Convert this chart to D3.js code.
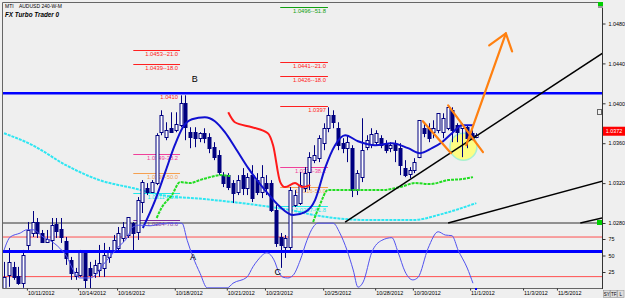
<!DOCTYPE html>
<html>
<head>
<meta charset="utf-8">
<script src="https://cdn.jsdelivr.net/npm/d3@7"></script>
<style>
body { margin: 0; background: #efefef; }
svg { display: block; font-family: "Liberation Sans", Arial, sans-serif; }
</style>
</head>
<body>
<svg id="chart" width="625" height="298"></svg>
<script>
// 4h candles, [open, high, low, close]
var candles = [
[1.0215,1.0241,1.0213,1.0226],[1.0228,1.0255,1.0216,1.0241],[1.0236,1.0241,1.0223,1.0226],[1.0227,1.0236,1.0218,1.0220],
[1.0220,1.0253,1.0215,1.0248],[1.0258,1.0281,1.0253,1.0273],[1.0270,1.0292,1.0266,1.0281],[1.0281,1.0285,1.0265,1.0270],
[1.0270,1.0273,1.0260,1.0261],[1.0261,1.0273,1.0260,1.0264],[1.0263,1.0285,1.0251,1.0278],[1.0279,1.0285,1.0265,1.0272],
[1.0274,1.0285,1.0260,1.0266],[1.0262,1.0266,1.0238,1.0245],[1.0243,1.0246,1.0223,1.0230],[1.0227,1.0235,1.0223,1.0231],
[1.0228,1.0253,1.0226,1.0251],[1.0250,1.0251,1.0208,1.0223],[1.0235,1.0241,1.0211,1.0228],[1.0230,1.0243,1.0225,1.0238],
[1.0233,1.0258,1.0226,1.0240],[1.0235,1.0260,1.0226,1.0248],[1.0246,1.0256,1.0240,1.0251],[1.0251,1.0268,1.0250,1.0263],
[1.0255,1.0276,1.0251,1.0270],[1.0265,1.0281,1.0261,1.0276],[1.0268,1.0286,1.0265,1.0286],[1.0280,1.0281,1.0251,1.0270],
[1.0271,1.0306,1.0263,1.0303],[1.0301,1.0323,1.0290,1.0321],[1.0315,1.0320,1.0308,1.0311],[1.0311,1.0323,1.0310,1.0321],
[1.0320,1.0370,1.0318,1.0368],[1.0371,1.0393,1.0368,1.0388],[1.0366,1.0381,1.0363,1.0373],[1.0375,1.0391,1.0371,1.0371],
[1.0373,1.0391,1.0371,1.0379],[1.0378,1.0408,1.0376,1.0400],[1.0400,1.0408,1.0363,1.0376],[1.0371,1.0376,1.0355,1.0366],
[1.0371,1.0376,1.0356,1.0365],[1.0365,1.0371,1.0361,1.0370],[1.0370,1.0375,1.0360,1.0365],[1.0366,1.0370,1.0350,1.0355],
[1.0356,1.0361,1.0343,1.0346],[1.0348,1.0353,1.0328,1.0331],[1.0328,1.0331,1.0316,1.0320],[1.0328,1.0330,1.0313,1.0316],
[1.0320,1.0323,1.0300,1.0310],[1.0311,1.0328,1.0308,1.0323],[1.0328,1.0335,1.0308,1.0315],[1.0315,1.0330,1.0308,1.0326],
[1.0328,1.0338,1.0301,1.0305],[1.0323,1.0330,1.0308,1.0311],[1.0311,1.0338,1.0305,1.0326],[1.0320,1.0328,1.0308,1.0315],
[1.0320,1.0323,1.0291,1.0293],[1.0293,1.0298,1.0256,1.0260],[1.0266,1.0270,1.0235,1.0258],[1.0256,1.0268,1.0245,1.0265],
[1.0256,1.0316,1.0253,1.0313],[1.0298,1.0313,1.0296,1.0308],[1.0300,1.0331,1.0298,1.0318],[1.0315,1.0336,1.0311,1.0330],
[1.0331,1.0351,1.0313,1.0346],[1.0343,1.0358,1.0340,1.0348],[1.0345,1.0368,1.0341,1.0365],[1.0360,1.0380,1.0353,1.0375],
[1.0375,1.0396,1.0371,1.0388],[1.0388,1.0393,1.0375,1.0381],[1.0375,1.0381,1.0353,1.0358],[1.0360,1.0365,1.0350,1.0355],
[1.0355,1.0368,1.0341,1.0361],[1.0355,1.0358,1.0306,1.0313],[1.0313,1.0333,1.0308,1.0330],[1.0326,1.0385,1.0321,1.0353],
[1.0356,1.0368,1.0353,1.0363],[1.0359,1.0375,1.0355,1.0369],[1.0361,1.0373,1.0358,1.0370],[1.0365,1.0368,1.0355,1.0358],
[1.0359,1.0363,1.0350,1.0353],[1.0355,1.0361,1.0351,1.0358],[1.0359,1.0363,1.0341,1.0353],[1.0355,1.0360,1.0328,1.0338],
[1.0335,1.0343,1.0326,1.0328],[1.0329,1.0336,1.0325,1.0333],[1.0333,1.0345,1.0330,1.0341],[1.0346,1.0383,1.0345,1.0383],
[1.0375,1.0381,1.0366,1.0370],[1.0375,1.0380,1.0361,1.0365],[1.0371,1.0383,1.0365,1.0375],[1.0373,1.0390,1.0370,1.0390],
[1.0371,1.0390,1.0365,1.0385],[1.0375,1.0398,1.0373,1.0396],[1.0393,1.0396,1.0361,1.0373],[1.0378,1.0380,1.0361,1.0371],
[1.0375,1.0380,1.0346,1.0378],[1.0376,1.0378,1.0355,1.0365],[1.0370,1.0373,1.0363,1.0365],[1.0366,1.0370,1.0365,1.0368]
];

// [bar index, price]
var cyanMA = [[0,1.0370],[6,1.0358],[13,1.0338],[20,1.0323],[27,1.0315],[33,1.0308],[42,1.0304],[53,1.0298],
	[60,1.0293],[65,1.0288],[76,1.0283],[86,1.0283],[91,1.0288],[99,1.0300]];
var stopUpA = [[32,1.0285],[33,1.0295],[35.2,1.0308],[36.9,1.0321],[39,1.0320],[41,1.0323],[43.2,1.0326],[45.3,1.0328],[47.4,1.0327]];
var stopDown = [[47,1.0391],[48.4,1.0381],[52,1.0376],[55.3,1.0370],[56.4,1.0358],[57.9,1.0321],[58.9,1.0316],[61,1.0320],[62.5,1.0316],[64.2,1.0318]];
var stopUpB = [[64.8,1.0281],[66.2,1.0298],[67.9,1.0313],[70.4,1.0313],[73.6,1.0313],[79.2,1.0313],[83,1.0316],[86.2,1.0320],
	[89.3,1.0319],[93.1,1.0323],[96,1.0324],[98.3,1.0326]];
var blueMA = [[29.1,1.0275],[31.7,1.0303],[33.8,1.0331],[35.8,1.0358],[37.5,1.0376],[39.4,1.0384],[42.1,1.0386],[44.2,1.0382],
	[46.3,1.0371],[48.4,1.0356],[51.2,1.0335],[54.7,1.0313],[57.9,1.0296],[60.6,1.0288],[63.1,1.0291],[65.2,1.0303],
	[67.3,1.0335],[69.4,1.0358],[71.5,1.0368],[74.2,1.0362],[77.8,1.0358],[81.3,1.0360],[84.7,1.0355],[87.2,1.0350],
	[89.7,1.0355],[91.8,1.0361],[93.9,1.0370],[96,1.0378],[98.3,1.0378]];

// oscillator, [bar index, value 0-100]
var osc = [[0,58],[1.3,78],[3.4,84],[4.8,89],[6.1,89],[8.2,78],[9.6,73],[11.7,61],[13.2,48],[14.5,28],[15.9,16],[18,16],
	[19.5,23],[20.8,36],[22.2,48],[23.7,61],[25.8,77],[27,93],[28.5,96],[30.6,95],[32.7,98],[34.8,99],[37.3,99],
	[38.4,73],[39.6,48],[41.1,23],[42.6,1],[46.8,1],[48,8],[50.9,17],[52.2,33],[53.2,43],[55.1,54],[56.2,48],[56.8,40],
	[57.4,28],[58.5,17],[59.5,16],[60.6,20],[62.1,43],[63.5,73],[64.8,93],[65.8,99],[69,99],[70.4,84],[71.9,58],
	[73.2,28],[74.2,2],[75.3,10],[77.1,55],[79.2,73],[81.3,77],[82.6,55],[84.1,25],[85.7,13],[86.8,17],[88.9,61],
	[91,86],[92.5,81],[93.9,80],[95.2,58],[97.1,31],[98.3,8]];
var oscLevels = [78, 18];
var oscMid = 56;

var dateIdx = [4.8, 15.5, 23.7, 35.8, 46.7, 54.7, 66.9, 77.8, 85.7, 97.7, 108.8, 115.9];
var dateLabels = ["10/11/2012","10/14/2012","10/16/2012","10/18/2012","10/21/2012","10/23/2012",
	"10/25/2012","10/28/2012","10/30/2012","11/1/2012","11/3/2012","11/5/2012"];
var priceTicks = [1.028, 1.032, 1.036, 1.040, 1.044, 1.048];
var oscTicks = [25, 50, 75];
var lastPrice = 1.0372;

// fibonacci levels: [from bar, to bar, price, text, colour]
var fibs = [
	[27.1, 36.9, 1.0453, "1.0453--21.0", "#ff2020"],
	[27.1, 36.9, 1.0439, "1.0439--18.0", "#ff2020"],
	[27.1, 36.9, 1.0410, "1.0410", "#ff2020"],
	[27.1, 36.9, 1.0349, "1.0349-38.2", "#f0409a"],
	[27.1, 36.9, 1.0330, "1.0330-50.0", "#f5a050"],
	[27.1, 36.9, 1.0310, "1.0311-61.8", "#20e8e8"],
	[27.1, 36.9, 1.0283, "1.0284-78.6", "#8030a0"],
	[57.9, 67.9, 1.0497, "1.0496--51.8", "#10a010"],
	[57.9, 67.9, 1.0441, "1.0441--21.0", "#ff2020"],
	[57.9, 67.9, 1.0427, "1.0426--18.0", "#ff2020"],
	[57.9, 67.9, 1.0397, "1.0397", "#ff2020"],
	[57.9, 67.9, 1.0336, "1.0336-38.2", "#f0409a"],
	[57.9, 67.9, 1.0316, "1.0316-50.0", "#f5a050"],
	[57.9, 67.9, 1.0297, "1.0297-61.8", "#20e8e8"]
];
var resistance = 1.0410;
var baseLine = 1.0280;
var trendLines = [[[71.5,1.0281],[125.4,1.0450]], [[93.1,1.0280],[125.4,1.0322]], [[120.8,1.0280],[125.4,1.0285]]];
var orangeLines = [[[96.9,1.0358],[105.2,1.0470]], [[105.2,1.0470],[101.7,1.0458]], [[105.2,1.0470],[106.5,1.0452]],
	[[87.8,1.0382],[93.7,1.0350]], [[93.1,1.0398],[100.4,1.0351]]];
var circle = [96.3, 1.03565];
var points = [["A", 39.6, 1.0246], ["B", 40, 1.0425], ["C", 57.4, 1.0231]];

var svg = d3.select("#chart");
var pL = 2, pT = 2, pR = 602, pB = 288;

var x = d3.scaleLinear().domain([0, 99]).range([4, 476.3]);
var y = d3.scaleLinear().domain([1.028, 1.048]).range([223, 23.5]);
var yo = d3.scaleLinear().domain([0, 100]).range([288.5, 222.5]);

svg.append("rect").attr("width", 625).attr("height", 298).attr("fill", "#efefef");

svg.append("defs").append("clipPath").attr("id", "plot")
	.append("rect").attr("x", pL).attr("y", pT).attr("width", pR - pL).attr("height", pB - pT);

var g = svg.append("g").attr("clip-path", "url(#plot)");

function hline(val, scale, color, w) {
	g.append("line")
	.attr("x1", pL).attr("x2", pR)
	.attr("y1", scale(val)).attr("y2", scale(val))
	.attr("stroke", color).attr("stroke-width", w);
}

hline(baseLine, y, "#333", 1);
oscLevels.forEach(v => hline(v, yo, "#ff5050", 1));

var line = d3.line().x(d => x(d[0])).y(d => y(d[1])).curve(d3.curveMonotoneX);
var lineo = d3.line().x(d => x(d[0])).y(d => yo(d[1])).curve(d3.curveMonotoneX);
var straight = d3.line().x(d => x(d[0])).y(d => y(d[1]));

g.append("path").attr("d", line(cyanMA)).attr("fill", "none")
	.attr("stroke", "#2ee6f2").attr("stroke-width", 2).attr("stroke-dasharray", "3,1");

// fib levels
fibs.forEach(function(f) {
	g.append("line").attr("x1", x(f[0])).attr("x2", x(f[1]))
	.attr("y1", Math.round(y(f[2])) + 0.5).attr("y2", Math.round(y(f[2])) + 0.5)
	.attr("stroke", f[4]).attr("stroke-width", 1);
	g.append("text").attr("x", x(f[1]) - 2).attr("y", y(f[2]) + 6)
	.attr("text-anchor", "end").style("font-size", "5.8px").attr("fill", f[4]).text(f[3]);
});

g.append("ellipse").attr("cx", x(circle[0])).attr("cy", y(circle[1])).attr("rx", 13.5).attr("ry", 13.5)
	.attr("fill", "#ffff70").attr("fill-opacity", 0.85).attr("stroke", "#a8f0d0").attr("stroke-width", 1.5);

// candles
var cg = g.append("g");
candles.forEach(function(d, i) {
	var cx = Math.round(x(i)) + 0.5;
	var bull = d[3] >= d[0];
	cg.append("line").attr("x1", cx).attr("x2", cx)
	.attr("y1", y(d[1])).attr("y2", y(d[2]))
	.attr("stroke", "#000080").attr("stroke-width", 1);
	var t = Math.round(y(Math.max(d[0], d[3]))), b = Math.round(y(Math.min(d[0], d[3])));
	cg.append("rect").attr("x", cx - 1.5).attr("y", t + 0.5)
	.attr("width", 3).attr("height", Math.max(b - t, 1))
	.attr("fill", bull ? "#ffffff" : "#000080")
	.attr("stroke", "#000080").attr("stroke-width", 1);
});

g.append("path").attr("d", line(stopUpA)).attr("fill", "none")
	.attr("stroke", "#22dd22").attr("stroke-width", 2).attr("stroke-dasharray", "3,1");
g.append("path").attr("d", line(stopUpB)).attr("fill", "none")
	.attr("stroke", "#22dd22").attr("stroke-width", 2).attr("stroke-dasharray", "3,1");
g.append("path").attr("d", line(stopDown)).attr("fill", "none")
	.attr("stroke", "#ff1a1a").attr("stroke-width", 2);
g.append("path").attr("d", line(blueMA)).attr("fill", "none")
	.attr("stroke", "#1010d0").attr("stroke-width", 2);

// oscillator
hline(oscMid, yo, "#0000ff", 3);
hline(resistance, y, "#0000ff", 2.5);
g.append("path").attr("d", lineo(osc)).attr("fill", "none")
	.attr("stroke", "#5252ee").attr("stroke-width", 1);

trendLines.forEach(function(t) {
	g.append("path").attr("d", straight(t)).attr("stroke", "#000").attr("stroke-width", 1.5);
});
orangeLines.forEach(function(t) {
	g.append("path").attr("d", straight(t)).attr("stroke", "#ff8010").attr("stroke-width", 2.2)
	.attr("stroke-linecap", "round");
});

points.forEach(function(p) {
	g.append("text").attr("x", x(p[1])).attr("y", y(p[2]) + 3.5).attr("text-anchor", "middle")
	.style("font-size", "9px").attr("fill", "#000").text(p[0]);
});

// frame
svg.append("path").attr("d", `M${pR},${pT + 0.5}H${pL + 0.5}V${pB + 0.5}H${pR}`)
	.attr("fill", "none").attr("stroke", "#666").attr("stroke-width", 1);
svg.append("line").attr("x1", pR + 0.5).attr("x2", pR + 0.5).attr("y1", pT).attr("y2", pB + 1)
	.attr("stroke", "#333");

// right axis
var ya = svg.append("g").attr("transform", `translate(${pR + 0.5},0)`)
	.call(d3.axisRight(y).tickValues(priceTicks).tickFormat(d3.format(".4f")).tickSize(3));
var yb = svg.append("g").attr("transform", `translate(${pR + 0.5},0)`)
	.call(d3.axisRight(yo).tickValues(oscTicks).tickSize(3));
[ya, yb].forEach(function(a) {
	a.select(".domain").remove();
	a.selectAll("line").attr("stroke", "#333");
	a.selectAll("text").style("font-size", "5.4px").attr("fill", "#000").attr("x", 6)
	.style("font-family", "'Liberation Sans', Arial, sans-serif");
});

// bottom axis
var xa = svg.append("g").attr("transform", `translate(0,${pB + 0.5})`)
	.call(d3.axisBottom(x).tickValues(dateIdx).tickFormat((d, i) => dateLabels[i]).tickSize(2));
xa.select(".domain").remove();
xa.selectAll("line").attr("stroke", "#333");
xa.selectAll("text").attr("text-anchor", "start").attr("x", 0.5).attr("y", 3)
	.style("font-size", "5.4px").attr("fill", "#000")
	.style("font-family", "'Liberation Sans', Arial, sans-serif");

// current price tag
svg.append("rect").attr("x", pR + 1).attr("y", y(lastPrice) - 4.5).attr("width", 22).attr("height", 9).attr("fill", "#ff0000");
svg.append("text").attr("x", pR + 12).attr("y", y(lastPrice) + 2).attr("text-anchor", "middle")
	.style("font-size", "5.4px").attr("fill", "#fff").text(lastPrice.toFixed(4));

// small markers
svg.append("rect").attr("x", 598).attr("y", 2).attr("width", 5).attr("height", 4).attr("fill", "#00d000");
svg.append("rect").attr("x", 598).attr("y", 6).attr("width", 5).attr("height", 2).attr("fill", "#999");
svg.append("rect").attr("x", 597).attr("y", y(baseLine) - 3).attr("width", 5).attr("height", 5).attr("fill", "#00d000");
svg.append("rect").attr("x", 597.5).attr("y", 109.5).attr("width", 4).attr("height", 5).attr("fill", "none").attr("stroke", "#666");
svg.append("rect").attr("x", Math.round(x(99)) - 1).attr("y", pB).attr("width", 2).attr("height", 2).attr("fill", "#0000ff");

["SY", "TF", "L"].forEach(function(s, i) {
	svg.append("rect").attr("x", 603.5 + i * 7).attr("y", 290.5).attr("width", 6.5).attr("height", 7)
	.attr("fill", "#ddd").attr("stroke", "#888").attr("stroke-width", 0.5);
	svg.append("text").attr("x", 606.7 + i * 7).attr("y", 296).attr("text-anchor", "middle")
	.style("font-size", "4.5px").attr("fill", "#000").text(s);
});

// title texts
svg.append("text").attr("x", 5).attr("y", 7.5).style("font-size", "5px").attr("fill", "#000")
	.attr("xml:space", "preserve").text("MTI    AUDUSD 240-W-M");
svg.append("text").attr("x", 5).attr("y", 17).style("font-size", "6.3px").style("font-weight", "bold")
	.style("font-style", "italic").attr("fill", "#000").text("FX Turbo Trader 0");
</script>
</body>
</html>
